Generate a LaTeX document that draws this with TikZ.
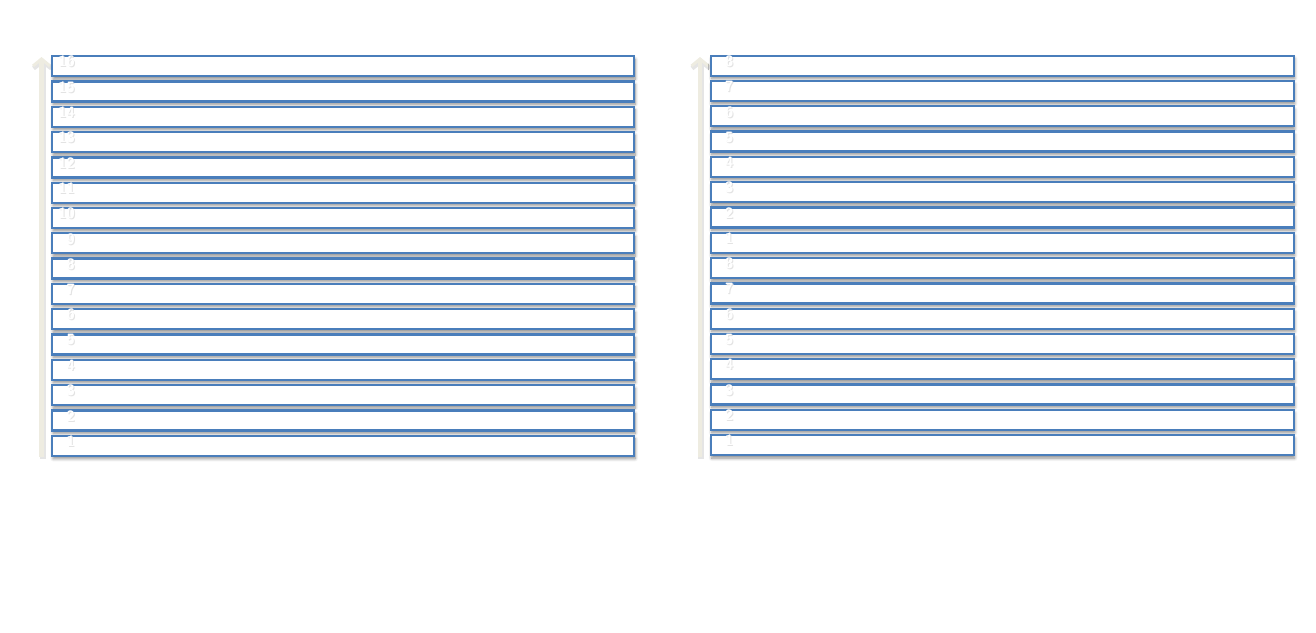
\documentclass[tikz,border=0pt]{standalone}
\usepackage{fontspec}
\setmainfont{Liberation Sans}
\usetikzlibrary{arrows.meta,shadows.blur}
\definecolor{boxblue}{HTML}{4A7EBB}
\definecolor{beige}{HTML}{EEECE1}
\tikzset{
  rowbox/.style={draw=boxblue, line width=2.3pt, fill=white, minimum width=582pt, minimum height=20pt, inner sep=0pt, anchor=north west,
    blur shadow={shadow xshift=1pt, shadow yshift=-3pt, shadow blur steps=8, shadow blur radius=3pt, shadow opacity=45}},
  labelfont/.style={font=\sffamily\bfseries\fontsize{15pt}{15pt}\selectfont, inner sep=0pt, anchor=north east},
  rowlabel/.style={labelfont, text=white},
  rowlabelshadow/.style={labelfont, text=black!11},
  axisarrow/.style={draw=beige, line width=4.5pt, -{Straight Barb[length=7pt,width=17pt,line width=3pt]}},
  axisshadow/.style={draw=black!10, line width=6pt, -{Straight Barb[length=7pt,width=18pt,line width=4.5pt]}}
}
\begin{document}
\begin{tikzpicture}[x=1pt,y=-1pt]
\useasboundingbox (0,0) rectangle (1316,632);
% axis arrows
\coordinate (la0) at (41.5,457);
\coordinate (la1) at (41.5,57);
\coordinate (ra0) at (700,457);
\coordinate (ra1) at (700,57);
\draw[axisshadow] ([xshift=1pt,yshift=-1.5pt]la0) -- ([xshift=1pt,yshift=-1.5pt]la1);
\draw[axisarrow] (la0) -- (la1);
\draw[axisshadow] ([xshift=1pt,yshift=-1.5pt]ra0) -- ([xshift=1pt,yshift=-1.5pt]ra1);
\draw[axisarrow] (ra0) -- (ra1);
% left column: 16 .. 1
\foreach \i in {0,...,15}{
  \pgfmathtruncatemacro{\lab}{16-\i}
  \node[rowbox] (L\lab) at (51,{55+25.3*\i}) {};
  \node[rowlabelshadow] (LS\lab) at ([xshift=25pt,yshift=-2pt]L\lab.north west) {\lab};
  \node[rowlabel] (LT\lab) at ([xshift=24pt,yshift=-1pt]L\lab.north west) {\lab};
}
% right column: 8..1, 8..1
\foreach \i in {0,...,15}{
  \pgfmathtruncatemacro{\lab}{mod(15-\i,8)+1}
  \pgfmathtruncatemacro{\idx}{16-\i}
  \node[rowbox, minimum width=583pt] (R\idx) at (709.5,{54.5+25.3*\i}) {};
  \node[rowlabelshadow] (RS\idx) at ([xshift=25pt,yshift=-2pt]R\idx.north west) {\lab};
  \node[rowlabel] (RT\idx) at ([xshift=24pt,yshift=-1pt]R\idx.north west) {\lab};
}
\end{tikzpicture}
\end{document}
